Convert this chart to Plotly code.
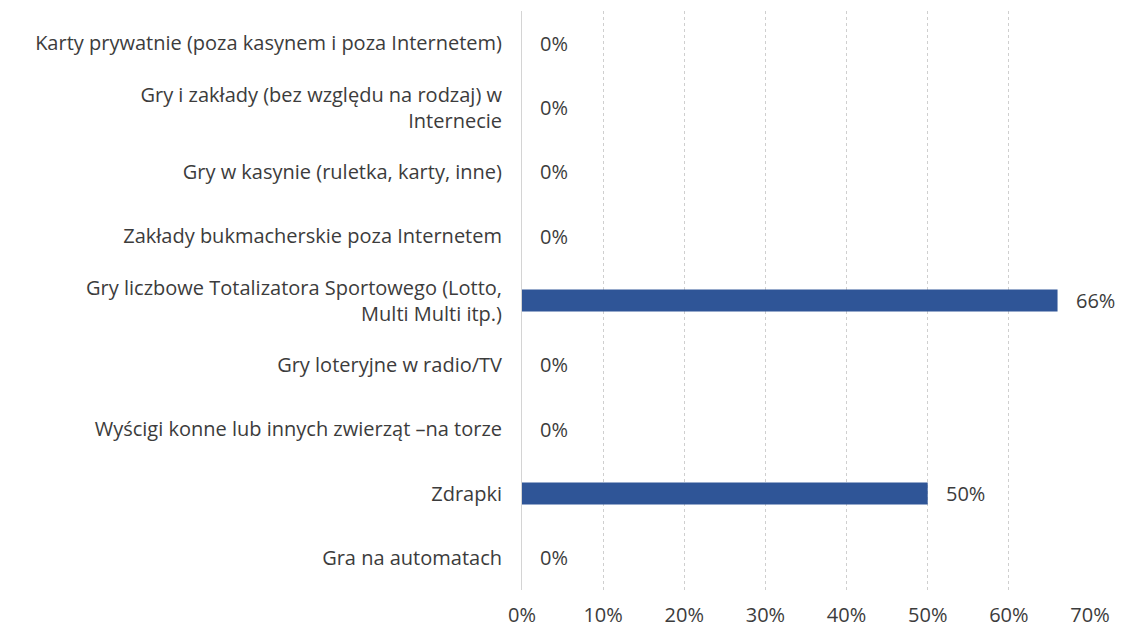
import plotly.graph_objects as go

categories = [
    "Karty prywatnie (poza kasynem i poza Internetem)",
    "Gry i zakłady (bez względu na rodzaj) w<br>Internecie",
    "Gry w kasynie (ruletka, karty, inne)",
    "Zakłady bukmacherskie poza Internetem",
    "Gry liczbowe Totalizatora Sportowego (Lotto,<br>Multi Multi itp.)",
    "Gry loteryjne w radio/TV",
    "Wyścigi konne lub innych zwierząt –na torze",
    "Zdrapki",
    "Gra na automatach",
]
values = [0, 0, 0, 0, 66, 0, 0, 50, 0]
tick_vals = [0, 10, 20, 30, 40, 50, 60, 70]
tick_text = ["0%", "10%", "20%", "30%", "40%", "50%", "60%", "70%"]

FONT = "Open Sans"
TXT = "#3c3c3c"
FS = 20

fig = go.Figure()
fig.add_trace(go.Bar(
    y=categories, x=values, orientation="h",
    marker=dict(color="#2F5597", line=dict(width=0)),
    width=0.34,
    hoverinfo="skip",
))

for c, v in zip(categories, values):
    fig.add_annotation(x=v, y=c, text=f"{v}%", showarrow=False,
                       xanchor="left", xshift=16,
                       font=dict(family=FONT, size=FS, color=TXT))

fig.update_layout(
    width=1115, height=623,
    margin=dict(l=514, r=33, t=3, b=41, autoexpand=False),
    paper_bgcolor="white", plot_bgcolor="white",
    showlegend=False,
    font=dict(family=FONT, size=FS, color=TXT),
)
fig.update_xaxes(
    range=[0, 70], tickvals=tick_vals, ticktext=tick_text,
    showgrid=True, gridcolor="#cfcfcf", griddash="dot", gridwidth=1,
    zeroline=False, showline=False, automargin=False,
    ticks="outside", ticklen=7, tickcolor="rgba(0,0,0,0)",
    tickfont=dict(family=FONT, size=FS, color=TXT),
)
fig.update_yaxes(
    categoryorder="array", categoryarray=categories[::-1],
    autorange=True, automargin=False,
    showgrid=False, zeroline=False, showline=True,
    linecolor="#d4d4d4", linewidth=1,
    ticks="outside", ticklen=15, tickcolor="rgba(0,0,0,0)",
    tickfont=dict(family=FONT, size=FS, color=TXT),
)

fig.write_html("out.html")
